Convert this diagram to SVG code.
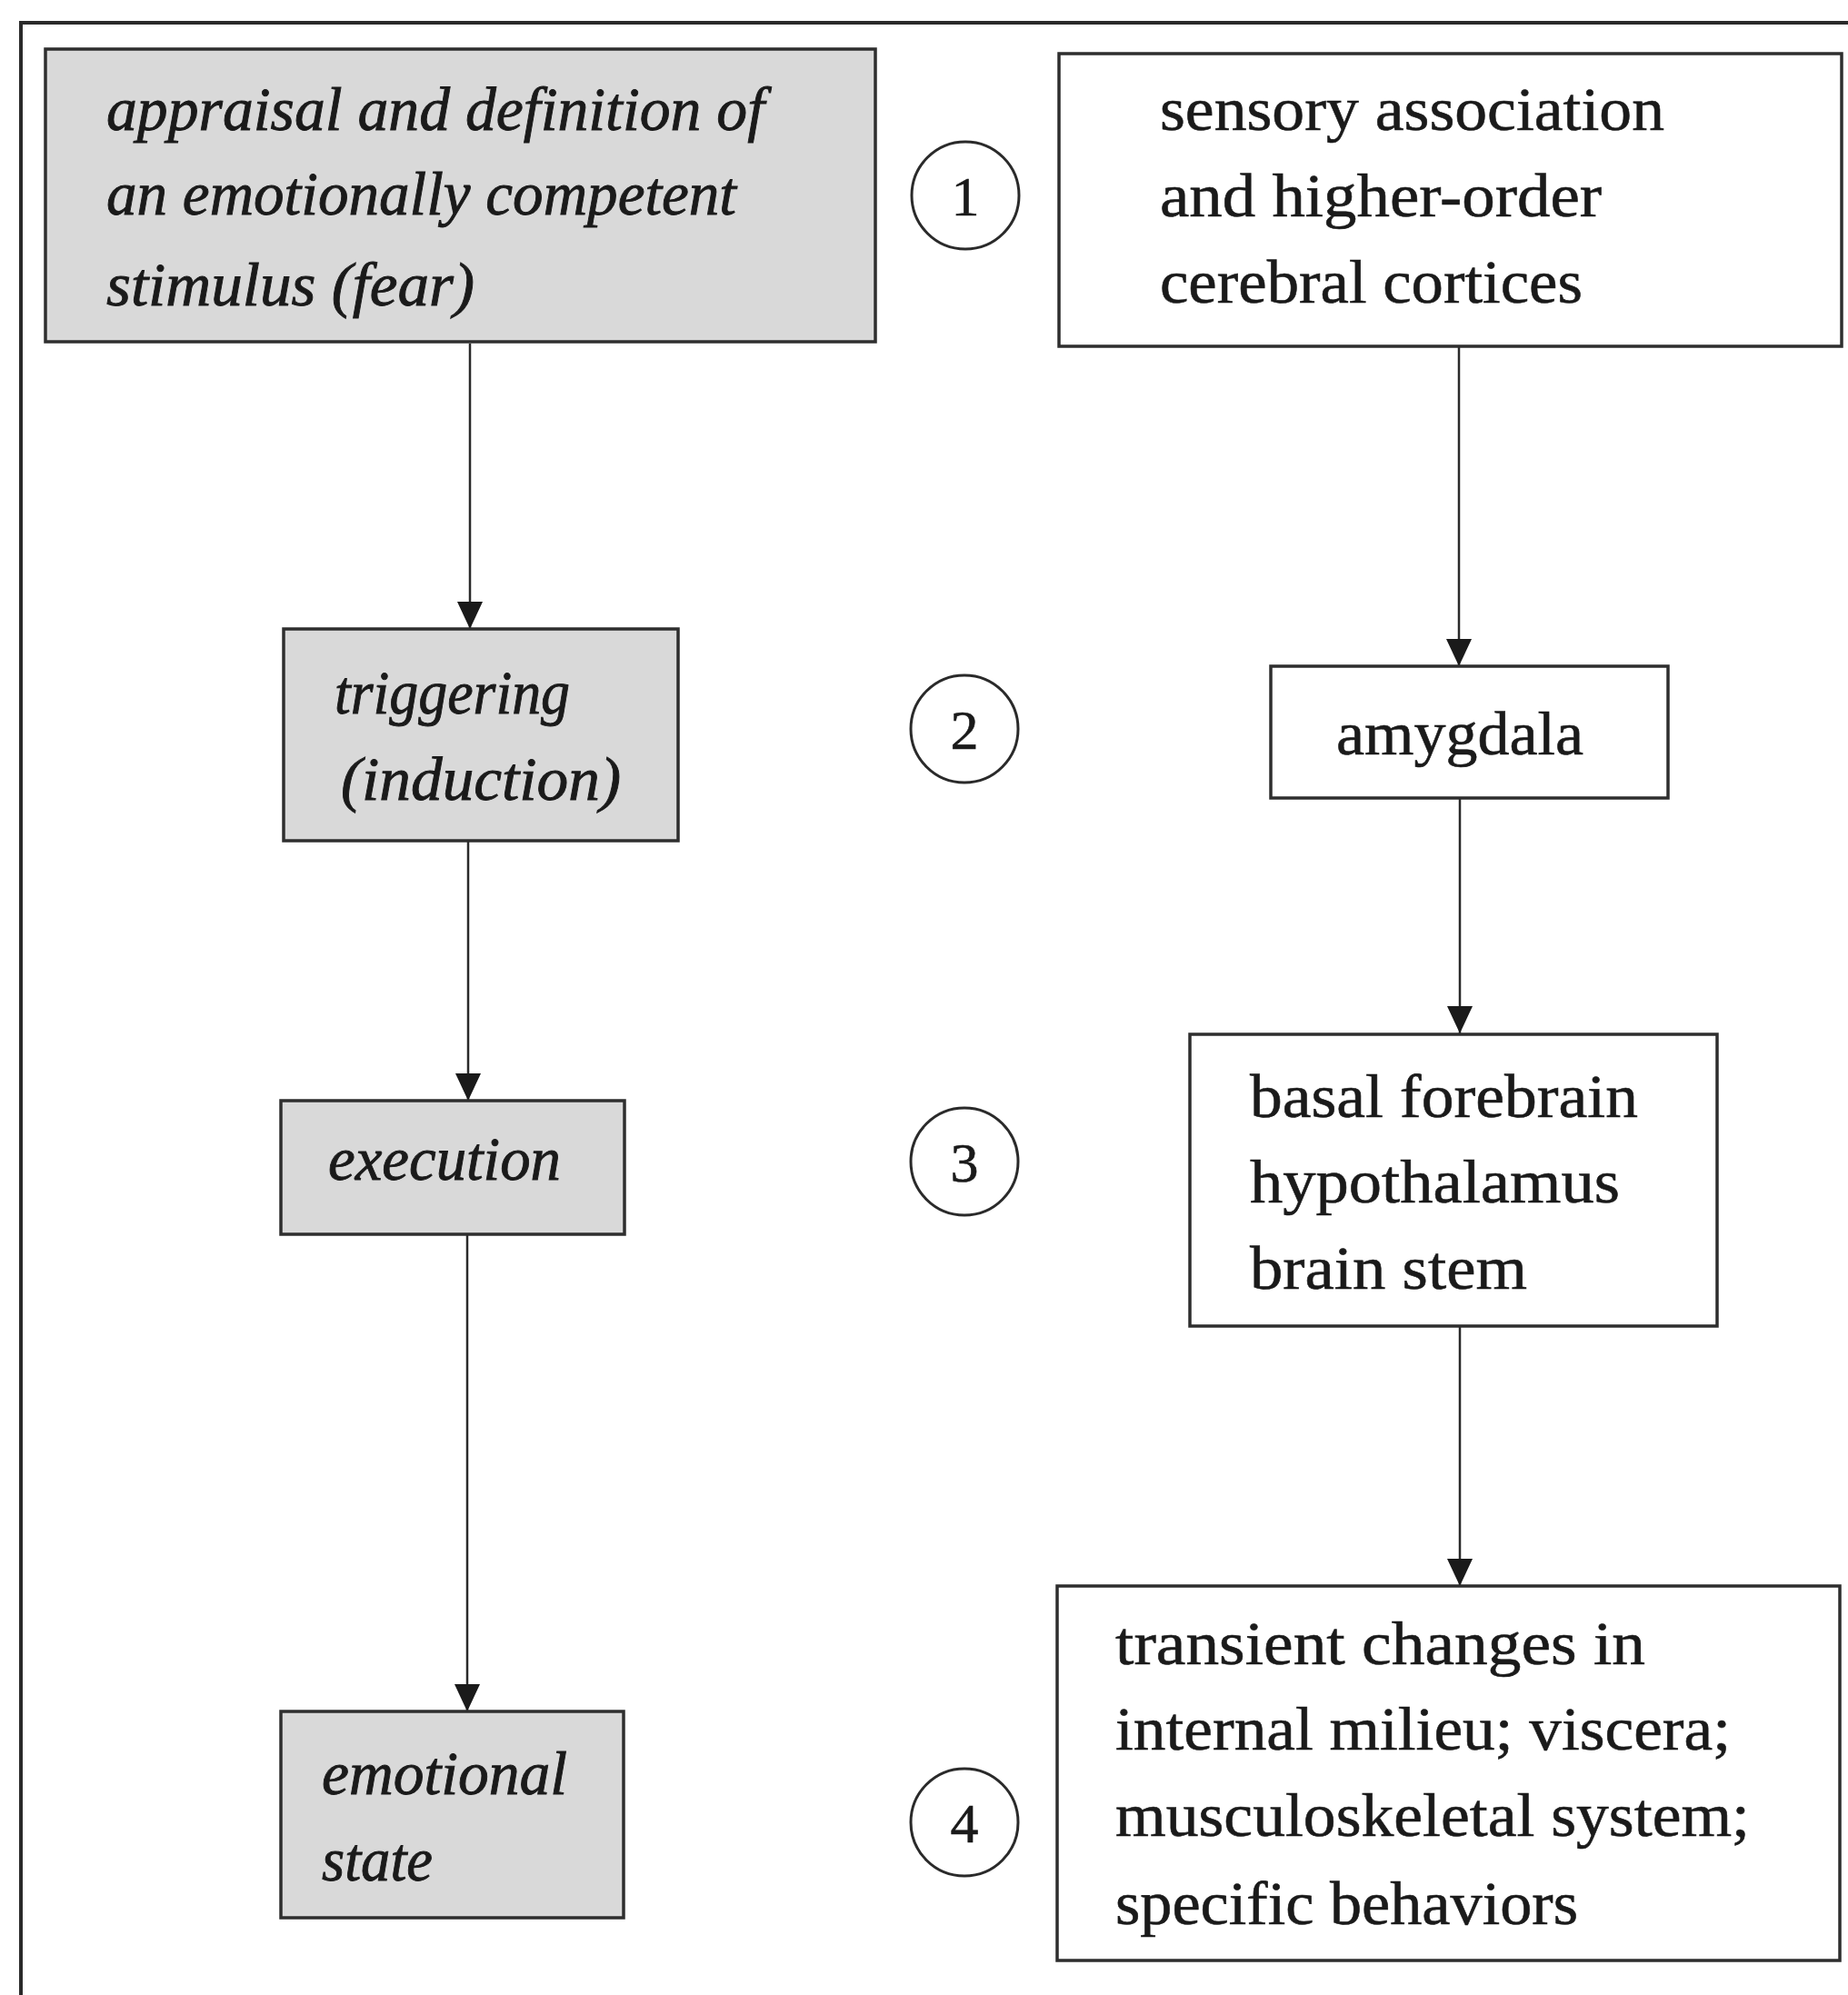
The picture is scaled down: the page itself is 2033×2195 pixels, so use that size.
<svg xmlns="http://www.w3.org/2000/svg" width="2033" height="2195" viewBox="0 0 2033 2195">
<style>
.frame{fill:none;stroke:#2a2a2a;stroke-width:4}
.box{stroke:#2e2e2e;stroke-width:3.5}
.gray{fill:#d9d9d9}
.white{fill:#ffffff}
.it{font-family:"Liberation Serif",serif;font-style:italic;font-size:68px;fill:#1a1a1a;stroke:#1a1a1a;stroke-width:0.9}
.rm{font-family:"Liberation Serif",serif;font-size:68px;fill:#1a1a1a;stroke:#1a1a1a;stroke-width:0.6}
.num{font-family:"Liberation Serif",serif;font-size:62px;fill:#1a1a1a;stroke:#1a1a1a;stroke-width:0.6;text-anchor:middle}
.circ{fill:#ffffff;stroke:#2a2a2a;stroke-width:3}
.conn{stroke:#2a2a2a;stroke-width:2.5;fill:none}
</style>
<defs>
<marker id="ah" viewBox="0 0 30 28" refX="30" refY="14" markerWidth="30" markerHeight="28" markerUnits="userSpaceOnUse" orient="auto">
<path d="M0,0 L30,14 L0,28 z" fill="#1a1a1a"/>
</marker>
</defs>
<rect width="2033" height="2195" fill="#ffffff"/>
<path class="frame" d="M23,2195 L23,25 L2033,25"/>

<g id="connectors">
<line class="conn" x1="517" y1="378" x2="517" y2="692" marker-end="url(#ah)"/>
<line class="conn" x1="515" y1="925" x2="515" y2="1211" marker-end="url(#ah)"/>
<line class="conn" x1="514" y1="1358" x2="514" y2="1883" marker-end="url(#ah)"/>
<line class="conn" x1="1605" y1="381" x2="1605" y2="733" marker-end="url(#ah)"/>
<line class="conn" x1="1606" y1="879" x2="1606" y2="1137" marker-end="url(#ah)"/>
<line class="conn" x1="1606" y1="1459" x2="1606" y2="1745" marker-end="url(#ah)"/>
</g>

<g id="node-appraisal">
<rect class="box gray" x="50" y="54" width="913" height="322"/>
<text class="it" x="117" y="143" textLength="724" lengthAdjust="spacingAndGlyphs">appraisal and definition of</text>
<text class="it" x="117" y="236" textLength="693" lengthAdjust="spacingAndGlyphs">an emotionally competent</text>
<text class="it" x="117" y="336" textLength="405" lengthAdjust="spacingAndGlyphs">stimulus (fear)</text>
</g>

<g id="node-triggering">
<rect class="box gray" x="312" y="692" width="434" height="233"/>
<text class="it" x="368" y="785" textLength="259" lengthAdjust="spacingAndGlyphs">triggering</text>
<text class="it" x="375" y="880" textLength="308" lengthAdjust="spacingAndGlyphs">(induction)</text>
</g>

<g id="node-execution">
<rect class="box gray" x="309" y="1211" width="378" height="147"/>
<text class="it" x="361" y="1298" textLength="256" lengthAdjust="spacingAndGlyphs">execution</text>
</g>

<g id="node-emotional">
<rect class="box gray" x="309" y="1883" width="377" height="227"/>
<text class="it" x="354" y="1974" textLength="270" lengthAdjust="spacingAndGlyphs">emotional</text>
<text class="it" x="354" y="2069" textLength="122" lengthAdjust="spacingAndGlyphs">state</text>
</g>

<g id="step-1">
<circle class="circ" cx="1062" cy="215" r="59"/>
<text class="num" x="1062" y="237">1</text>
</g>
<g id="step-2">
<circle class="circ" cx="1061" cy="802" r="59"/>
<text class="num" x="1061" y="824">2</text>
</g>
<g id="step-3">
<circle class="circ" cx="1061" cy="1278" r="59"/>
<text class="num" x="1061" y="1300">3</text>
</g>
<g id="step-4">
<circle class="circ" cx="1061" cy="2005" r="59"/>
<text class="num" x="1061" y="2027">4</text>
</g>

<g id="node-cortices">
<rect class="box white" x="1165" y="59" width="861" height="322"/>
<text class="rm" x="1276" y="143" textLength="555" lengthAdjust="spacingAndGlyphs">sensory association</text>
<text class="rm" x="1276" y="238" textLength="486" lengthAdjust="spacingAndGlyphs">and higher-order</text>
<text class="rm" x="1276" y="333" textLength="465" lengthAdjust="spacingAndGlyphs">cerebral cortices</text>
</g>

<g id="node-amygdala">
<rect class="box white" x="1398" y="733" width="437" height="145"/>
<text class="rm" x="1470" y="830" textLength="272" lengthAdjust="spacingAndGlyphs">amygdala</text>
</g>

<g id="node-basal">
<rect class="box white" x="1309" y="1138" width="580" height="321"/>
<text class="rm" x="1375" y="1229" textLength="427" lengthAdjust="spacingAndGlyphs">basal forebrain</text>
<text class="rm" x="1375" y="1323" textLength="407" lengthAdjust="spacingAndGlyphs">hypothalamus</text>
<text class="rm" x="1375" y="1418" textLength="305" lengthAdjust="spacingAndGlyphs">brain stem</text>
</g>

<g id="node-changes">
<rect class="box white" x="1163" y="1745" width="861" height="412"/>
<text class="rm" x="1227" y="1831" textLength="583" lengthAdjust="spacingAndGlyphs">transient changes in</text>
<text class="rm" x="1227" y="1925" textLength="677" lengthAdjust="spacingAndGlyphs">internal milieu; viscera;</text>
<text class="rm" x="1227" y="2020" textLength="698" lengthAdjust="spacingAndGlyphs">musculoskeletal system;</text>
<text class="rm" x="1227" y="2117" textLength="509" lengthAdjust="spacingAndGlyphs">specific behaviors</text>
</g>
</svg>
